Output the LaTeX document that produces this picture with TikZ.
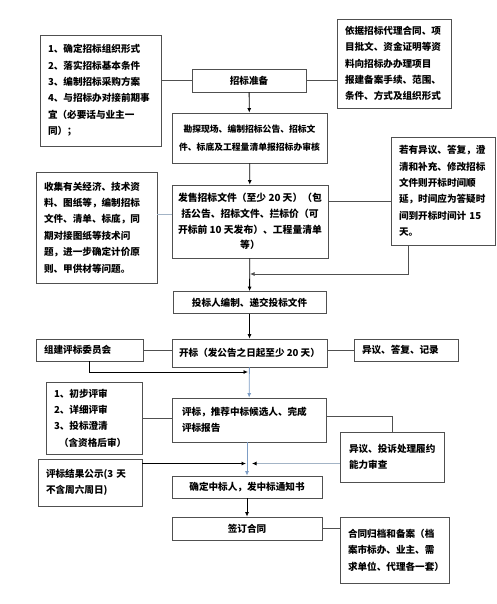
\documentclass[tikz,border=0pt]{standalone}
\usepackage{fontspec}
\setmainfont{Noto Sans CJK SC}
\usepackage{tikz}
\usetikzlibrary{arrows.meta,calc,positioning}
\definecolor{FlowGrey}{HTML}{505050}
\definecolor{FlowBlue}{HTML}{7C9CC4}
\definecolor{LinkBlue}{HTML}{A3B4C6}

\begin{document}
\begin{tikzpicture}[x=1pt,y=-1pt,font=\bfseries\fontsize{9.6}{16.4}\selectfont,
 line width=.8pt,>={Latex[length=4.5pt,width=4pt]},every node/.style={inner sep=0pt},
 stage/.style={draw=FlowGrey,align=center,minimum width=154pt,inner xsep=6pt},
 note/.style={draw=FlowGrey,align=left,inner xsep=8pt,text width=#1}]
\useasboundingbox (0,0) rectangle (497,604);
% main column
\node[stage,minimum width=114pt,minimum height=23pt] (prep) at (249,80.5) {招标准备};
\node[stage,minimum width=155pt,minimum height=50pt,font=\bfseries\fontsize{8.8}{18}\selectfont] (survey) at (249.5,138)
 {勘探现场、编制招标公告、招标文\\件、标底及工程量清单报招标办审核};
\node[stage,minimum height=73pt,font=\bfseries\fontsize{9.8}{15.6}\selectfont] (sale) at (250,221.5)
 {发售招标文件（至少 20 天）（包\\括公告、招标文件、拦标价（可\\开标前 10 天发布）、工程量清单\\等）};
\node[stage,minimum width=153pt,minimum height=22pt] (bid) at (249.5,302.5) {投标人编制、递交投标文件};
\node[stage,minimum width=155pt,minimum height=28pt] (open) at (249.5,353) {开标（发公告之日起至少 20 天）};
\node[note=134pt,inner xsep=10pt,minimum height=44pt] (eval) at (249,420)
 {评标，推荐中标候选人、完成\\评标报告};
\node[stage,minimum width=150pt,minimum height=22pt] (award) at (247,487) {确定中标人，发中标通知书};
\node[stage,minimum width=150pt,minimum height=23pt] (sign) at (247,528.5) {签订合同};
% side notes
\node[note=105pt,minimum height=111pt] (tasks) at (100.5,90.5)
 {1、确定招标组织形式\\2、落实招标基本条件\\3、编制招标采购方案\\4、与招标办对接前期事\\宜（必要话与业主一\\同）；};
\node[note=98pt,minimum height=89pt] (basis) at (394,63.5)
 {依据招标代理合同、项\\目批文、资金证明等资\\料向招标办办理项目\\报建备案手续、范围、\\条件、方式及组织形式};
\node[note=105pt,minimum height=111pt] (collect) at (96.5,227.5)
 {收集有关经济、技术资\\料、图纸等，编制招标\\文件、清单、标底，同\\期对接图纸等技术问\\题，进一步确定计价原\\则、甲供材等问题。};
\node[note=88pt,minimum height=108pt] (query) at (443,191)
 {若有异议、答复，澄\\清和补充、修改招标\\文件则开标时间顺\\延，时间应为答疑时\\间到开标时间计 15\\天。};
\node[note=91pt,minimum height=22pt] (panel) at (89.5,350) {组建评标委员会};
\node[note=88pt,minimum height=22pt] (record) at (406,350) {异议、答复、记录};
\node[note=80pt,minimum height=72pt] (steps) at (94,418)
 {1、初步评审\\2、详细评审\\3、投标澄清\\\hspace*{5pt}（含资格后审）};
\node[note=86pt,inner xsep=9pt,minimum height=50pt] (check) at (392,457)
 {异议、投诉处理履约\\能力审查\\[1pt]};
\node[note=88pt,minimum height=47pt] (publish) at (90,482.5)
 {评标结果公示(3 天\\不含周六周日)\\[2pt]};
\node[note=93pt,minimum height=66pt] (archive) at (394.5,550)
 {合同归档和备案（档\\案市标办、业主、需\\求单位、代理各一套）\\[6pt]};
% junctions
\coordinate (bs) at (0,214);
\coordinate (cs) at (0,201);
\coordinate (cdrop) at (408,0);
\coordinate (cj) at (250,274);
\coordinate (dj) at (248,372);
\coordinate (gs) at (0,416);
\coordinate (hl) at (246,463.5);
\coordinate (hr) at (252,463.5);
% connectors
\draw[FlowGrey] (tasks.east |- prep) -- (prep.west);
\draw[FlowGrey] (prep.east) -- (prep.east -| basis.west);
\draw[->] (prep) -- (survey);
\draw[->] (survey) -- (sale);
\draw[LinkBlue] (collect.east |- bs) -- (sale.west |- bs);
\draw[FlowGrey] (sale.east |- cs) -- (query.west |- cs);
\draw[FlowGrey,->] (query.south -| cdrop) |- (cj);
\draw[->] (sale) -- (bid);
\draw[->] (bid) -- (open);
\draw[FlowGrey] (panel.east) -- (panel.east -| open.west);
\draw[FlowGrey] (open.east |- record) -- (record.west);
\draw[->] (panel.south) |- (dj);
\draw[FlowBlue,->] (open) -- (eval);
\draw[FlowGrey] (steps.east) -- (steps.east -| eval.west);
\draw[FlowGrey] (eval.east |- gs) -| (check.north);
\draw[LinkBlue,-{Latex[length=4.5pt,width=4pt,color=black]}] (check.west |- hr) -- (hr);
\draw[->] (publish.east |- hl) -- (hl);
\draw[FlowBlue,->] (eval.south -| award) -- (award);
\draw[->] (award) -- (sign);
\draw[FlowGrey] (sign.east) -- (sign.east -| archive.west);
\end{tikzpicture}
\end{document}
